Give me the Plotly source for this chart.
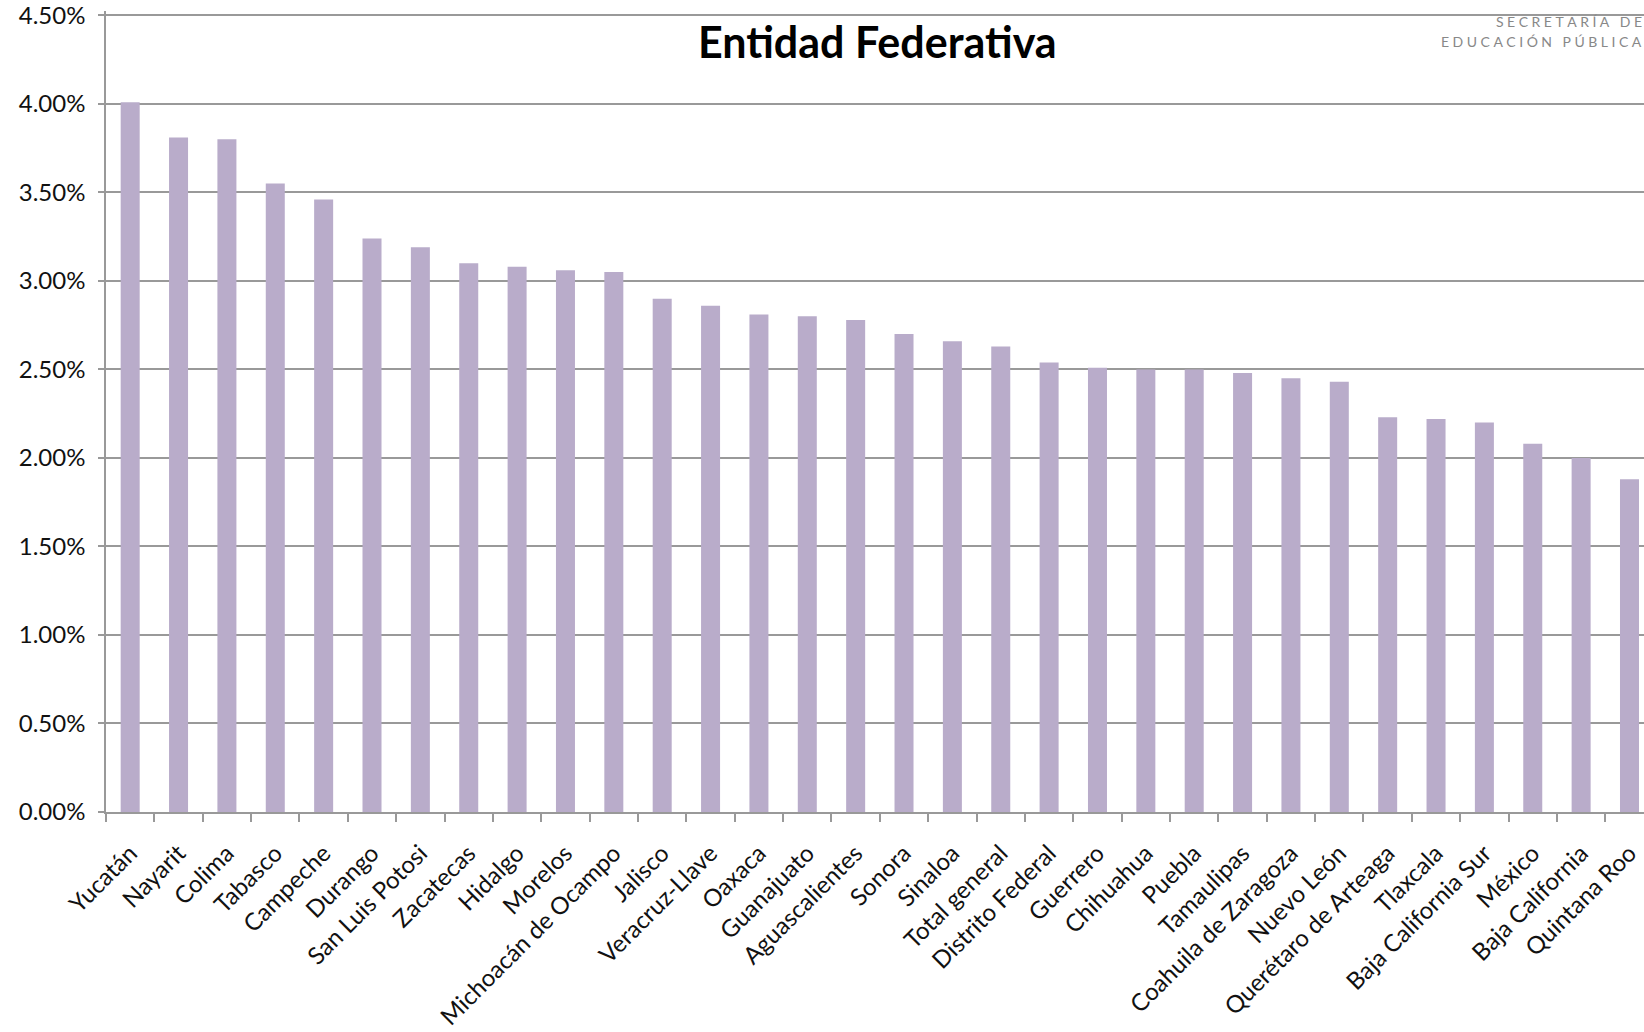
import plotly.graph_objects as go

entidades = ["Yucatán", "Nayarit", "Colima", "Tabasco", "Campeche", "Durango",
             "San Luis Potosi", "Zacatecas", "Hidalgo", "Morelos", "Michoacán de Ocampo",
             "Jalisco", "Veracruz-Llave", "Oaxaca", "Guanajuato", "Aguascalientes",
             "Sonora", "Sinaloa", "Total general", "Distrito Federal", "Guerrero",
             "Chihuahua", "Puebla", "Tamaulipas", "Coahuila de Zaragoza", "Nuevo León",
             "Querétaro de Arteaga", "Tlaxcala", "Baja California Sur", "México",
             "Baja California", "Quintana Roo"]
valores = [0.0401, 0.0381, 0.0380, 0.0355, 0.0346, 0.0324,
           0.0319, 0.0310, 0.0308, 0.0306, 0.0305,
           0.0290, 0.0286, 0.0281, 0.0280, 0.0278,
           0.0270, 0.0266, 0.0263, 0.0254, 0.0251,
           0.0250, 0.0250, 0.0248, 0.0245, 0.0243,
           0.0223, 0.0222, 0.0220, 0.0208,
           0.0200, 0.0188]
titulo = "<b>Entidad Federativa</b>"
SP = "\u2005"
logo_1 = SP.join("SECRETARÍA") + SP * 3 + SP.join("DE")
logo_2 = SP.join("EDUCACIÓN") + SP * 3 + SP.join("PÚBLICA")

FONT = "Lato"
W, H = 1644, 1032
L, T, B = 106, 9, 220
PH = H - T - B

def py(px_from_top):
    return 1 - (px_from_top - T) / PH

def px(px_from_left):
    return (px_from_left - L) / (W - L)

fig = go.Figure(go.Bar(x=entidades, y=valores, marker=dict(color="#B9ACCA", line=dict(width=0))))

fig.update_layout(
    width=W, height=H,
    margin=dict(l=L, r=0, t=T, b=B),
    paper_bgcolor="white", plot_bgcolor="white",
    bargap=0.607,
    showlegend=False,
    font=dict(family=FONT, color="#111111"),
)
fig.update_xaxes(
    range=[-0.5, 31.3], tickangle=-45, tickson="boundaries",
    ticks="outside", ticklen=8, tickcolor="#999999", tickwidth=1.5,
    showline=True, linecolor="#999999", linewidth=1.5,
    tickfont=dict(family=FONT, size=24, color="#111111"),
    ticklabelstandoff=16,
    showgrid=False, fixedrange=True,
)
fig.update_yaxes(
    range=[0, 0.04525], tickvals=[i * 0.005 for i in range(10)], tickformat=".2%",
    ticks="outside", ticklen=6, tickcolor="#999999", tickwidth=1.5,
    showline=True, linecolor="#999999", linewidth=1.5,
    showgrid=True, gridcolor="#999999", gridwidth=1.5,
    tickfont=dict(family=FONT, size=24, color="#111111"),
    ticklabelstandoff=8, zeroline=False, ticklabeloverflow="allow",
)
fig.add_annotation(text=titulo, x=px(877), xref="paper", y=py(40), yref="paper",
                   xanchor="center", yanchor="middle", showarrow=False,
                   font=dict(family=FONT, size=43, color="#000000"))
fig.add_annotation(text=logo_1, x=px(1644), xanchor="right", xref="paper",
                   yref="paper", y=py(20), yanchor="middle", showarrow=False,
                   font=dict(family=FONT, size=14, color="#888888"))
fig.add_annotation(text=logo_2, x=px(1644), xanchor="right", xref="paper",
                   yref="paper", y=py(40), yanchor="middle", showarrow=False,
                   font=dict(family=FONT, size=14, color="#888888"))

fig.write_html("out.html", config={"displayModeBar": False},
               post_script="document.body.style.margin='0';")
